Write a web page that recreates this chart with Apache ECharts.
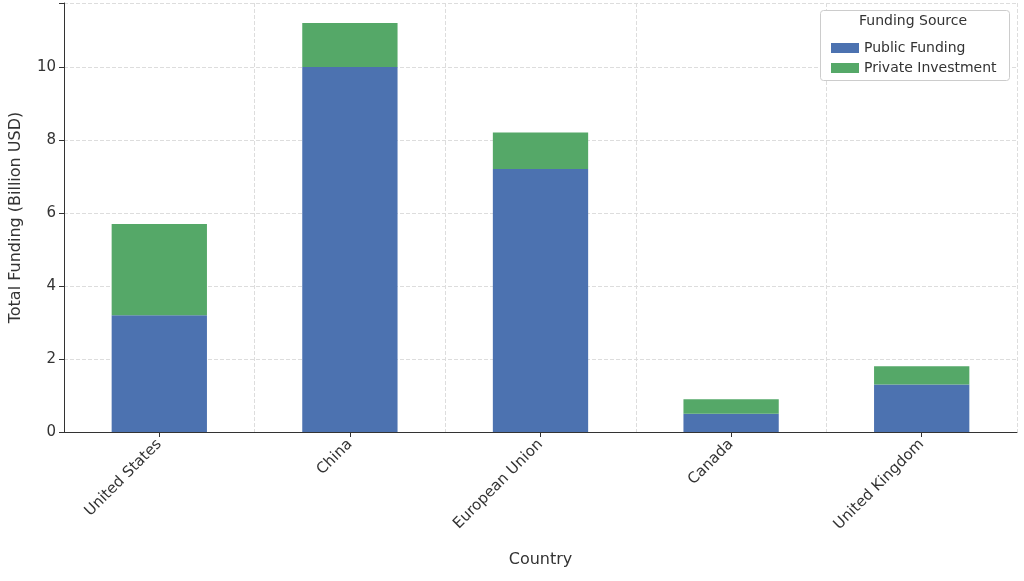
<!DOCTYPE html><html><head><meta charset="utf-8"><script src="https://cdn.jsdelivr.net/npm/echarts@6/dist/echarts.min.js"></script></head><body style="margin:0"><div id="c" style="width:1024px;height:581px"></div><script>
const categories=['United States','China','European Union','Canada','United Kingdom'];
const publicFunding=[3.2,10,7.2,0.5,1.3];
const privateInvestment=[2.5,1.2,1.0,0.4,0.5];
const yTicks=[0,2,4,6,8,10];
const ch=echarts.init(document.getElementById('c'));
const ff='DejaVu Sans';
ch.setOption({
animation:false,textStyle:{fontFamily:ff},
grid:{left:59,right:7,top:3,bottom:149},
graphic:[{type:'rect',right:14,top:10,shape:{width:189,height:70,r:3},style:{fill:'#fff',stroke:'#ccc',lineWidth:1},z:10},
{type:'text',left:859,top:14,style:{text:'Funding Source',fontSize:14,fill:'#333',fontFamily:ff},z:11}],
legend:{orient:'vertical',left:826,top:36,itemWidth:28,itemHeight:10,itemGap:6,textStyle:{fontSize:14,color:'#333',fontFamily:ff},z:12,data:['Public Funding','Private Investment'],icon:'rect'},
xAxis:{type:'category',data:categories,name:'Country',nameLocation:'middle',nameGap:120,nameTextStyle:{fontSize:16,color:'#333'},
axisLine:{lineStyle:{color:'#333'}},axisTick:{show:true,alignWithLabel:true,lineStyle:{color:'#333'}},
axisLabel:{rotate:45,fontSize:15,color:'#333',interval:0,margin:10},
splitLine:{show:true,interval:0,lineStyle:{type:'dashed',color:'#ddd'}}},
yAxis:{type:'value',min:0,max:11.75,interval:2,name:'Total Funding (Billion USD)',nameLocation:'middle',nameGap:40,nameTextStyle:{fontSize:16,color:'#333'},
axisLine:{show:true,lineStyle:{color:'#333'}},axisTick:{show:true,lineStyle:{color:'#333'}},
axisLabel:{fontSize:15,color:'#333',formatter:v=>yTicks.includes(v)?String(v):''},
splitLine:{lineStyle:{type:'dashed',color:'#ddd'}}},
series:[{name:'Public Funding',type:'bar',stack:'a',data:publicFunding,barWidth:'50%',itemStyle:{color:'#4c72b0'}},
{name:'Private Investment',type:'bar',stack:'a',data:privateInvestment,itemStyle:{color:'#55a868'}}]
});
</script></body></html>
